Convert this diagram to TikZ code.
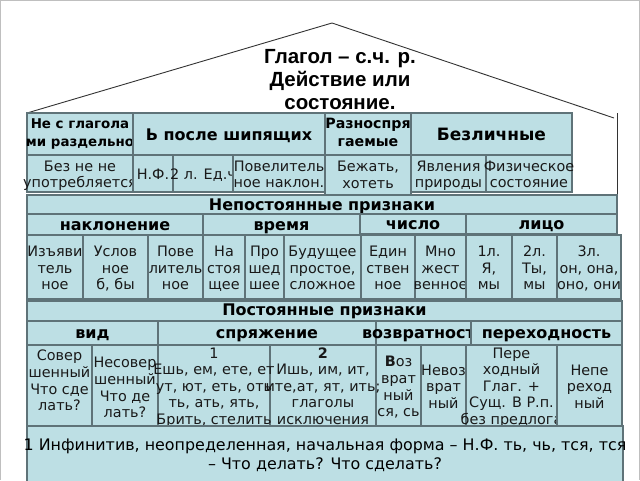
\documentclass[tikz,border=0pt]{standalone}
\usepackage{fontspec}
\setmainfont{DejaVu Sans}
\newfontfamily\titlefont{Liberation Sans}
\definecolor{cellfill}{RGB}{189,223,228}
\definecolor{cellline}{RGB}{95,115,120}
\definecolor{txt}{RGB}{25,25,25}
\tikzset{
  cellf/.style={fill=cellfill, draw=cellline, line width=1.1pt},
  ctext/.style={inner sep=0pt, align=center, text=txt, font=\fontsize{14.4}{16.6}\selectfont},
  hbold/.style={font=\bfseries\fontsize{16}{18.6}\selectfont, text=black},
  hsmall/.style={font=\bfseries\fontsize{13.4}{17.5}\selectfont, text=black},
  roofline/.style={draw=black!80, line width=0.9pt},
  frameline/.style={draw=black!25, line width=1pt},
  titletext/.style={inner sep=0pt, align=center, font=\titlefont\bfseries\fontsize{20.5}{23}\selectfont},
}
% [#1 node opts] #2 name, #3 x1, #4 y1, #5 x2, #6 y2, #7 text
\newcommand\cellbox[7][]{%
  \draw[cellf] (#3,#4) rectangle (#5,#6);
  \node[ctext,#1] (#2) at ({(#3+#5)/2},{(#4+#6)/2}) {\strut#7\strut};}
\newcommand\cellrect[4]{\draw[cellf] (#1,#2) rectangle (#3,#4);}
\newcommand\celltext[7][]{%
  \node[ctext,#1] (#2) at ({(#3+#5)/2},{(#4+#6)/2}) {\strut#7\strut};}
\begin{document}
\begin{tikzpicture}[x=1pt,y=-1pt]
\fill[white] (0,0) rectangle (640,480);
\useasboundingbox (0,0) rectangle (640,480);
\draw[frameline] (0.5,480) -- (0.5,0.5) -- (639.5,0.5) -- (639.5,480);

% title and roof
\node[titletext] (title) at (340,80) {Глагол – с.ч. р.\\Действие или\\состояние.};
\coordinate (roofL) at (27,113);
\coordinate (apex) at (332,23);
\coordinate (roofR) at (614,118);
\coordinate (wallT) at (617,113);
\coordinate (wallB) at (617,195);
\draw[roofline] (roofL) -- (apex) -- (roofR);
\draw[roofline] (wallT) -- (wallB);

% row A
\cellbox[hsmall]{a1}{27}{113}{133}{155}{Не с глагола\\ми раздельно}
\cellbox[hbold,yshift=-3pt]{a2}{133}{113}{325}{155}{Ь после шипящих}
\cellbox[hbold,font=\bfseries\fontsize{14.2}{17.5}\selectfont]{a3}{325}{113}{411}{155}{Разноспря\\гаемые}
\cellbox[hbold,yshift=-3pt,font=\bfseries\fontsize{17}{19}\selectfont]{a4}{411}{113}{572}{155}{Безличные}
% row B
\cellbox[yshift=-2.5pt]{b1}{27}{155}{133}{192}{Без не не\\употребляется}
\cellbox[yshift=-3pt]{b2}{133}{155}{173}{192}{Н.Ф.}
\cellbox[yshift=-3pt]{b3}{173}{155}{233}{192}{2 л. Ед.ч}
\cellbox[yshift=-2.5pt]{b4}{233}{155}{325}{192}{Повелитель\\ное наклон.}
\cellbox[yshift=-1.5pt]{b5}{325}{155}{411}{195}{Бежать,\\хотеть}
\cellbox[yshift=-2.5pt]{b6}{411}{155}{486}{192}{Явления\\природы}
\cellbox[yshift=-2.5pt]{b7}{486}{155}{572}{192}{Физическое\\состояние}

% row C
\cellbox[hbold,yshift=-2.5pt]{c1}{27}{195}{617}{214}{Непостоянные признаки}
% row D
\cellbox[hbold,yshift=-2.5pt]{d1}{27}{214}{203}{235}{наклонение}
\cellbox[hbold,yshift=-2.5pt]{d2}{203}{214}{360}{235}{время}
\cellbox[hbold,yshift=-2pt]{d3}{360}{214}{466}{234}{число}
\cellbox[hbold,yshift=-2pt]{d4}{466}{214}{617}{234}{лицо}
% row E
\cellbox[yshift=-3pt]{e1}{27}{235}{83}{299}{Изъяви\\тель\\ное}
\cellbox[yshift=-3pt]{e2}{83}{235}{148}{299}{Услов\\ное\\б, бы}
\cellbox[yshift=-3pt]{e3}{148}{235}{203}{299}{Пове\\литель\\ное}
\cellbox[yshift=-3pt]{e4}{203}{235}{245}{299}{На\\стоя\\щее}
\cellbox[yshift=-3pt]{e5}{245}{235}{284}{299}{Про\\шед\\шее}
\cellbox[yshift=-3pt]{e6}{284}{235}{361}{299}{Будущее\\простое,\\сложное}
\cellbox[yshift=-3pt]{e7}{361}{235}{415}{299}{Един\\ствен\\ное}
\cellbox[yshift=-3pt]{e8}{415}{235}{466}{299}{Мно\\жест\\венное}
\cellbox[yshift=-3pt]{e9}{466}{235}{512}{299}{1л.\\Я,\\мы}
\cellbox[yshift=-3pt]{e10}{512}{235}{557}{299}{2л.\\Ты,\\мы}
\cellbox[yshift=-3pt]{e11}{557}{235}{621}{299}{3л.\\он, она,\\оно, они}

% row F
\cellbox[hbold,yshift=-1pt]{f1}{27}{301}{622}{321}{Постоянные признаки}
% row G
\cellbox[hbold,yshift=-1.5pt]{g1}{27}{321}{158}{345}{вид}
\cellbox[hbold,yshift=-1.5pt]{g2}{158}{321}{376}{345}{спряжение}
\cellbox[hbold,yshift=-1.5pt]{g3}{376}{321}{471}{345}{возвратность}
\cellbox[hbold,yshift=-1.5pt]{g4}{471}{321}{622}{345}{переходность}
% row H
\cellrect{27}{345}{92}{426}
\cellrect{92}{345}{158}{426}
\cellrect{158}{345}{270}{426}
\cellrect{270}{345}{376}{426}
\cellrect{376}{345}{421}{426}
\cellrect{421}{345}{466}{426}
\cellrect{466}{345}{557}{426}
\celltext[yshift=3pt]{h1}{27}{345}{92}{426}{Совер\\шенный\\Что сде\\лать?}
\celltext[yshift=-4pt]{h2}{92}{345}{158}{426}{Несовер\\шенный\\Что де\\лать?}
\celltext[yshift=-2.5pt]{h3}{158}{345}{270}{426}{1\\Ешь, ем, ете, ет\\ут, ют, еть, оть\\ть, ать, ять,\\Брить, стелить}
\celltext[yshift=-2.5pt]{h4}{270}{345}{376}{426}{\textbf{2}\\Ишь, им, ит,\\ите,ат, ят, ить;\\глаголы\\исключения}
\celltext[yshift=-3pt]{h5}{376}{345}{421}{426}{\textbf{В}оз\\врат\\ный\\ся, сь}
\celltext[yshift=-3pt]{h6}{421}{345}{466}{426}{Невоз\\врат\\ный}
\celltext[yshift=-2.5pt]{h7}{466}{345}{557}{426}{Пере\\ходный\\Глаг. +\\Сущ. В Р.п.\\без предлога}
\cellbox[yshift=-3pt]{h8}{557}{345}{622}{426}{Непе\\реход\\ный}

% row I
\cellbox[font=\fontsize{15.9}{18.5}\selectfont, text=black, yshift=-2.5pt]{i1}{27}{426}{623}{482}{1 Инфинитив, неопределенная, начальная форма – Н.Ф. ть, чь, тся, тся\\– Что делать? Что сделать?}
\end{tikzpicture}
\end{document}
